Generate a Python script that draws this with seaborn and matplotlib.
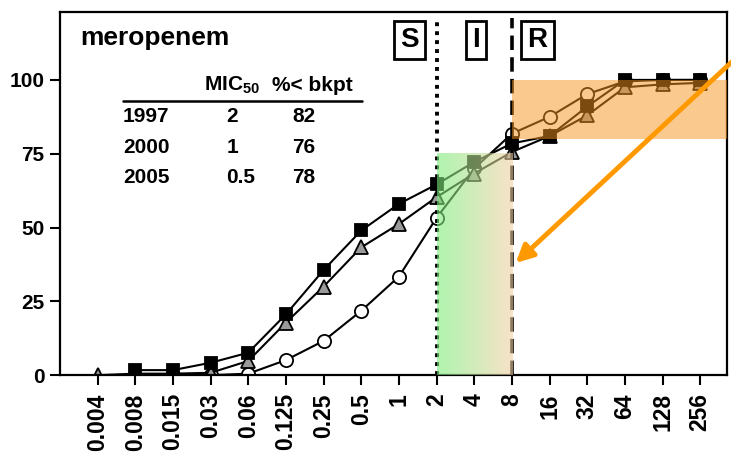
import numpy as np
import matplotlib
matplotlib.use("Agg")
import matplotlib.pyplot as plt
import seaborn as sns

# ======================
# Data
# ======================
mic_labels = ["0.004", "0.008", "0.015", "0.03", "0.06", "0.125", "0.25", "0.5",
              "1", "2", "4", "8", "16", "32", "64", "128", "256"]
nan = np.nan
pct_squares = [nan, 1.7, 1.7, 4.2, 7.6, 20.6, 35.6, 49.0, 58.0, 64.6, 72.2, 78.5,
               81.0, 91.0, 100.0, 100.0, 100.0]
pct_triangles = [0.0, 0.5, 0.5, 0.8, 4.8, 17.8, 30.0, 43.3, 51.2, 60.3, 68.3, 75.6,
                 81.0, 88.0, 97.5, 98.5, 99.0]
pct_circles = [nan, nan, 0.0, 0.0, 0.5, 5.1, 11.6, 21.8, 33.4, 53.3, 70.0, 81.8,
               87.5, 95.2, 99.5, 100.0, 100.0]

table_years = ["1997", "2000", "2005"]
table_mic50 = ["2", "1", "0.5"]
table_below = ["82", "76", "78"]

bkpt_s = "2"
bkpt_r = "8"
intermediate_top = 75
resistant_band = (80, 100)

# ======================
# Style
# ======================
sns.set_style("ticks")
plt.rcParams["font.family"] = ["Liberation Sans", "DejaVu Sans"]
plt.rcParams["font.weight"] = "bold"
plt.rcParams["text.color"] = "black"
plt.rcParams["xtick.color"] = "black"
plt.rcParams["ytick.color"] = "black"
plt.rcParams["mathtext.fontset"] = "custom"
plt.rcParams["mathtext.rm"] = "Liberation Sans:bold"
plt.rcParams["mathtext.bf"] = "Liberation Sans:bold"
plt.rcParams["mathtext.it"] = "Liberation Sans:bold"

fig = plt.figure(figsize=(7.31, 4.62), dpi=100)
ax = fig.add_axes([0.082, 0.188, 0.912, 0.786])

x = np.arange(len(mic_labels))
xs = mic_labels.index(bkpt_s)
xr = mic_labels.index(bkpt_r)
XMAX = len(mic_labels) - 0.3
YMAX = 123

# ======================
# Cumulative curves
# ======================
common = dict(ax=ax, color="black", linewidth=1.5, markeredgecolor="black",
              markeredgewidth=1.3, zorder=2, legend=False)
sns.lineplot(x=x, y=pct_circles, marker="o", markersize=9.5,
             markerfacecolor="white", **common)
sns.lineplot(x=x, y=pct_triangles, marker="^", markersize=10.5,
             markerfacecolor="#9a9a9a", **common)
sns.lineplot(x=x, y=pct_squares, marker="s", markersize=8,
             markerfacecolor="black", **common)

# ======================
# Breakpoint lines and shaded zones
# ======================
ax.vlines(xs, 0, YMAX - 2, colors="black", linestyles=(0, (1, 1.3)),
          linewidth=2.8, zorder=3)
ax.vlines(xr, 0, YMAX - 2, colors="black", linestyles=(0, (4, 2)),
          linewidth=2.6, zorder=3)

green = np.array([122, 238, 122]) / 255
peach = np.array([243, 207, 163]) / 255
t = np.linspace(0, 1, 256)
grad = np.zeros((1, 256, 4))
grad[0, :, :3] = (1 - t)[:, None] * green + t[:, None] * peach
grad[0, :, 3] = 0.6
ax.imshow(grad, extent=[xs, xr, 0, intermediate_top], aspect="auto",
          interpolation="bilinear", zorder=4)

ax.fill_between([xr, XMAX], resistant_band[0], resistant_band[1],
                color="#F7941D", alpha=0.5, linewidth=0, zorder=4)

# S / I / R labels
box = dict(boxstyle="square,pad=0.22", facecolor="white", edgecolor="black",
           linewidth=2)
for lab, xpos in [("S", xs - 0.71), ("I", (xs + xr) / 2 + 0.04), ("R", xr + 0.68)]:
    ax.text(xpos, 113.6, lab, fontsize=20, fontweight="bold", ha="center",
            va="center", bbox=box, zorder=5)

# orange arrow pointing at the R breakpoint
ax.annotate("", xy=(xr + 0.1, 38), xytext=(17.25, 111),
            arrowprops=dict(arrowstyle="-|>", color="#FF9900", lw=3.5,
                            mutation_scale=26, shrinkA=0, shrinkB=0),
            annotation_clip=False, zorder=6)

# ======================
# Title and little table
# ======================
tr = ax.transAxes
ax.text(0.03, 0.928, "meropenem", transform=tr, fontsize=19, fontweight="bold",
        ha="left", va="center")
ax.text(0.216, 0.799, "MIC$_{50}$", transform=tr, fontsize=15, fontweight="bold",
        ha="left", va="center")
ax.text(0.318, 0.799, "%< bkpt", transform=tr, fontsize=15, fontweight="bold",
        ha="left", va="center")
ax.plot([0.0945, 0.453], [0.755, 0.755], transform=tr, color="black", lw=1.8)
for i, (yr, m, b) in enumerate(zip(table_years, table_mic50, table_below)):
    yy = 0.711 - i * 0.083
    ax.text(0.0945, yy, yr, transform=tr, fontsize=15, fontweight="bold", va="center")
    ax.text(0.250, yy, m, transform=tr, fontsize=15, fontweight="bold", va="center")
    ax.text(0.349, yy, b, transform=tr, fontsize=15, fontweight="bold", va="center")

# ======================
# Axes
# ======================
ax.set_xlim(-1, XMAX)
ax.set_ylim(0, YMAX)
ax.set_xticks(x)
ax.set_xticklabels(mic_labels, rotation=90, fontsize=16.5, fontweight="bold")
ax.set_yticks([0, 25, 50, 75, 100])
ax.set_yticklabels(["0", "25", "50", "75", "100"], fontsize=15, fontweight="bold")
ax.tick_params(axis="both", direction="out", length=7, width=1.5, color="black", pad=4)
ax.tick_params(axis="x", pad=6)
for sp in ax.spines.values():
    sp.set_visible(True)
    sp.set_linewidth(1.6)
    sp.set_color("black")
ax.set_xlabel("")
ax.set_ylabel("")

fig.savefig("out.png", dpi=100)
